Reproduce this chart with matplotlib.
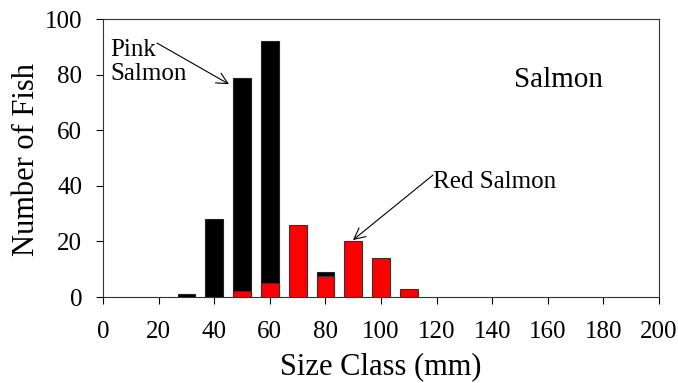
import matplotlib
matplotlib.use("Agg")
import matplotlib.pyplot as plt

# Data
pink_x = [30, 40, 50, 60, 80]
pink_n = [1, 28, 79, 92, 9]
red_x = [50, 60, 70, 80, 90, 100, 110]
red_n = [2, 5, 26, 7.5, 20, 14, 3]
xticks = list(range(0, 201, 20))
yticks = list(range(0, 101, 20))

plt.rcParams['font.family'] = ['Liberation Serif', 'DejaVu Serif']

fig = plt.figure(figsize=(6.78, 3.83), dpi=100)
ax = fig.add_axes([0.152, 0.2245, 0.820, 0.7255])

w = 6.4
ax.bar(pink_x, pink_n, width=w, color='black', edgecolor='#222222', linewidth=0.8, zorder=2)
ax.bar(red_x, red_n, width=w, color='#ff0000', edgecolor='#333333', linewidth=0.8, zorder=3)

ax.set_xlim(0, 200)
ax.set_ylim(0, 100)
ax.set_xticks(xticks)
ax.set_yticks(yticks)
ax.tick_params(direction='out', length=5, width=0.8, labelsize=18, colors='black')
ax.tick_params(axis='x', pad=12)
ax.tick_params(axis='y', pad=10)
for s in ax.spines.values():
    s.set_linewidth(0.8)
    s.set_color('#333333')

ax.set_xlabel('Size Class (mm)', fontsize=22)
ax.set_ylabel('Number of Fish', fontsize=22)
ax.xaxis.set_label_coords(0.5, -0.2)
ax.yaxis.set_label_coords(-0.112, 0.495)

ax.text(164, 78, 'Salmon', fontsize=21, ha='center', va='center')

ax.text(2.5, 84.5, 'Pink\nSalmon', fontsize=18, ha='left', va='center', linespacing=1.15)
ax.annotate('', xy=(45.3, 76.6), xytext=(19.4, 91.4),
            arrowprops=dict(arrowstyle='->', color='black', lw=0.8,
                            shrinkA=0, shrinkB=0, mutation_scale=20))
ax.text(118.7, 41.4, 'Red Salmon', fontsize=18, ha='left', va='center')
ax.annotate('', xy=(89.9, 20.5), xytext=(118.7, 43.9),
            arrowprops=dict(arrowstyle='->', color='black', lw=0.8,
                            shrinkA=0, shrinkB=0, mutation_scale=20))

fig.savefig('out.png', dpi=100, facecolor='white')
